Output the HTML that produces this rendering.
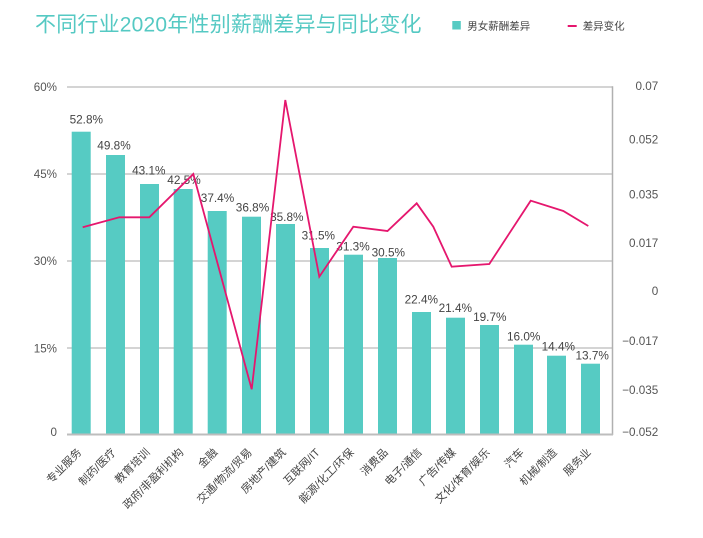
<!DOCTYPE html>
<html>
<head>
<meta charset="utf-8">
<style>
  html,body{margin:0;padding:0;background:#fff;}
  svg{display:block;}
  .t{font-family:"Liberation Sans","Noto Sans CJK SC",sans-serif;}
</style>
</head>
<body>
<svg width="703" height="538" viewBox="0 0 703 538" xmlns="http://www.w3.org/2000/svg">
  <rect width="703" height="538" fill="#fff"/>
  <!-- Title -->
  <text class="t" x="35" y="31.5" font-size="21" fill="#55c9c3" letter-spacing="0.2">不同行业2020年性别薪酬差异与同比变化</text>
  <!-- Legend -->
  <rect x="452.3" y="21" width="8.5" height="8.5" fill="#56cbc3"/>
  <text class="t" x="467.3" y="29.5" font-size="10.5" fill="#444">男女薪酬差异</text>
  <line x1="567.7" y1="26" x2="576.7" y2="26" stroke="#e5176e" stroke-width="2"/>
  <text class="t" x="582.7" y="29.5" font-size="10.5" fill="#444">差异变化</text>

  <!-- gridlines -->
  <g stroke="#c6c6c6" stroke-width="1.5">
    <line x1="67" y1="87" x2="612.5" y2="87"/>
    <line x1="67" y1="174" x2="612.5" y2="174"/>
    <line x1="67" y1="261" x2="612.5" y2="261"/>
    <line x1="67" y1="348" x2="612.5" y2="348"/>
  </g>
  <line x1="612.5" y1="86.3" x2="612.5" y2="435" stroke="#b0b0b0" stroke-width="1.5"/>

  <!-- left axis labels -->
  <g class="t" font-size="11.6" fill="#555" text-anchor="end">
    <text x="57" y="90.9">60%</text>
    <text x="57" y="178.2">45%</text>
    <text x="57" y="265.2">30%</text>
    <text x="57" y="352.5">15%</text>
    <text x="57" y="435.9">0</text>
  </g>
  <!-- right axis labels -->
  <g class="t" font-size="11.7" fill="#555" text-anchor="end">
    <text x="658.3" y="90.2">0.07</text>
    <text x="658.3" y="143.5">0.052</text>
    <text x="658.3" y="198.5">0.035</text>
    <text x="658.3" y="247.2">0.017</text>
    <text x="658.3" y="295.2">0</text>
    <text x="658.3" y="345.2">−0.017</text>
    <text x="658.3" y="394.2">−0.035</text>
    <text x="658.3" y="435.9">−0.052</text>
  </g>

  <!-- bars -->
  <g fill="#56cbc3">
    <rect x="71.7" y="131.7" width="19" height="303"/>
    <rect x="106" y="155" width="19" height="280"/>
    <rect x="140" y="184" width="19" height="251"/>
    <rect x="173.7" y="189" width="19" height="246"/>
    <rect x="207.7" y="211" width="19" height="224"/>
    <rect x="242" y="216.7" width="19" height="218.3"/>
    <rect x="276" y="224" width="19" height="211"/>
    <rect x="310" y="248" width="19" height="187"/>
    <rect x="344" y="254.7" width="19" height="180.3"/>
    <rect x="378" y="258" width="19" height="177"/>
    <rect x="412" y="312" width="19" height="123"/>
    <rect x="446" y="317.7" width="19" height="117.3"/>
    <rect x="480" y="325" width="19" height="110"/>
    <rect x="514" y="344.7" width="19" height="90.3"/>
    <rect x="547" y="355.7" width="19" height="79.3"/>
    <rect x="581" y="363.7" width="19" height="71.3"/>
  </g>
  <line x1="67" y1="434.5" x2="613" y2="434.5" stroke="#bdbdbd" stroke-width="2"/>

  <!-- data labels -->
  <g class="t" font-size="11.8" fill="#444" text-anchor="middle">
    <text x="86.3" y="123.3">52.8%</text>
    <text x="114" y="149.3">49.8%</text>
    <text x="148.8" y="174.3">43.1%</text>
    <text x="184" y="184">42.5%</text>
    <text x="217.5" y="201.8">37.4%</text>
    <text x="252.5" y="211.3">36.8%</text>
    <text x="286.8" y="221">35.8%</text>
    <text x="318.3" y="239.6">31.5%</text>
    <text x="353" y="250.3">31.3%</text>
    <text x="388.3" y="256.6">30.5%</text>
    <text x="421.3" y="303.6">22.4%</text>
    <text x="455.3" y="312">21.4%</text>
    <text x="489.8" y="321">19.7%</text>
    <text x="523.7" y="340.3">16.0%</text>
    <text x="558.3" y="350.3">14.4%</text>
    <text x="592.2" y="359.6">13.7%</text>
  </g>

  <!-- line series -->
  <polyline fill="none" stroke="#e5176e" stroke-width="1.8" stroke-linejoin="miter"
    points="82.7,227.3 119.3,217.3 149.3,217.3 193.3,174 251.7,389.3 285.3,100 319.3,276.7 353.3,226.7 387.5,231 416.7,203.3 433.3,226.7 451.7,266.7 489.3,264 530.7,200.7 563.3,211 588.3,226"/>

  <!-- x labels -->
  <g class="t" font-size="11" fill="#444" text-anchor="end">
    <text transform="translate(82.2,453) rotate(-45)">专业服务</text>
    <text transform="translate(116.5,453) rotate(-45)">制药/医疗</text>
    <text transform="translate(150.5,453) rotate(-45)">教育培训</text>
    <text transform="translate(184.2,453) rotate(-45)">政府/非盈利机构</text>
    <text transform="translate(218.2,453) rotate(-45)">金融</text>
    <text transform="translate(252.5,453) rotate(-45)">交通/物流/贸易</text>
    <text transform="translate(286.5,453) rotate(-45)">房地产/建筑</text>
    <text transform="translate(320.5,453) rotate(-45)">互联网/IT</text>
    <text transform="translate(354.5,453) rotate(-45)">能源/化工/环保</text>
    <text transform="translate(388.5,453) rotate(-45)">消费品</text>
    <text transform="translate(422.5,453) rotate(-45)">电子/通信</text>
    <text transform="translate(456.5,453) rotate(-45)">广告/传媒</text>
    <text transform="translate(490.5,453) rotate(-45)">文化/体育/娱乐</text>
    <text transform="translate(524.5,453) rotate(-45)">汽车</text>
    <text transform="translate(557.5,453) rotate(-45)">机械/制造</text>
    <text transform="translate(591.5,453) rotate(-45)">服务业</text>
  </g>
</svg>
</body>
</html>
